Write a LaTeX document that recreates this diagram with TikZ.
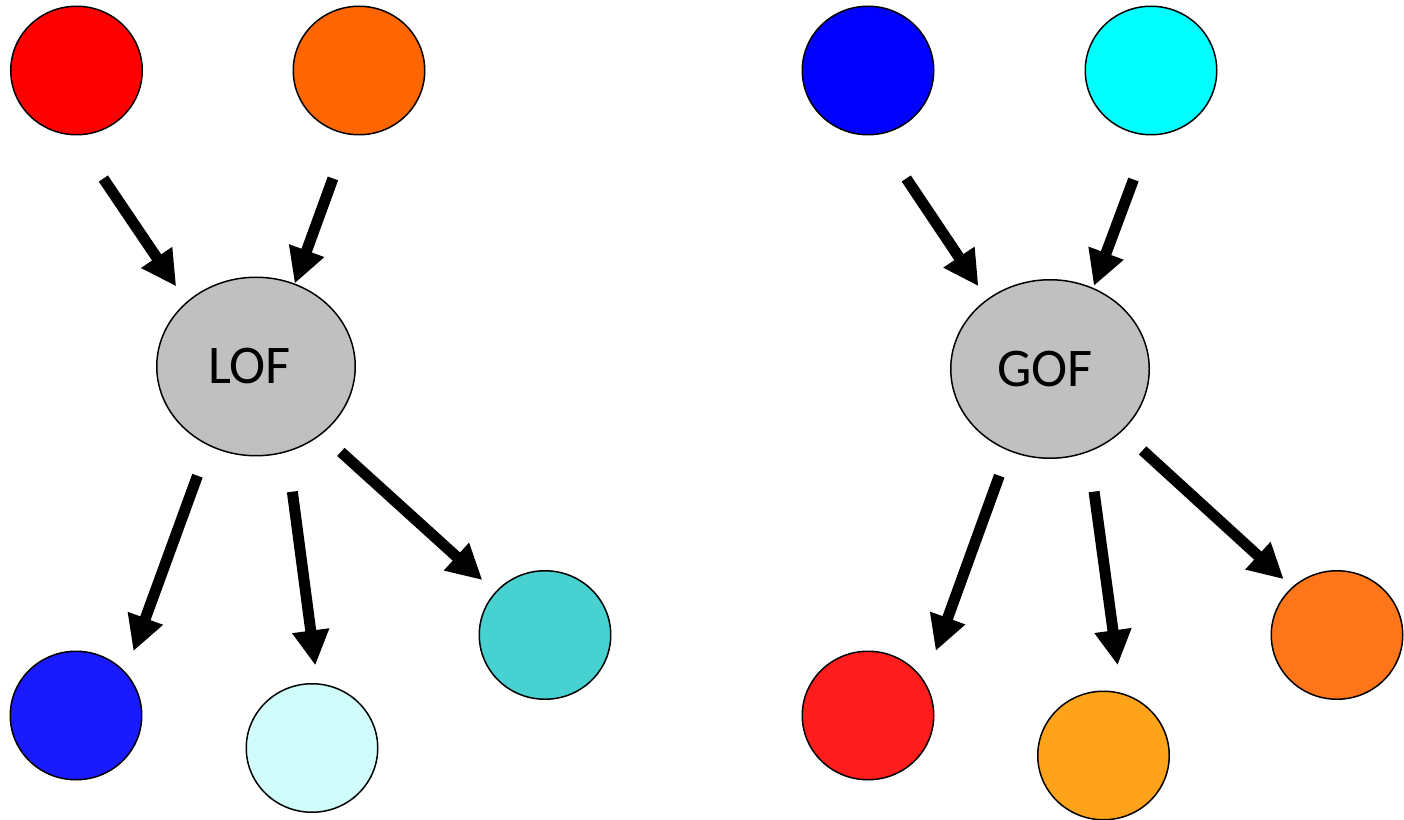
\documentclass[tikz,border=0pt]{standalone}
\usepackage{fontspec}
\setmainfont{Carlito}
\usepackage{tikz}
\usetikzlibrary{shapes.geometric, arrows.meta}

\definecolor{inred}{HTML}{FF0000}
\definecolor{inorange}{HTML}{FF6600}
\definecolor{inblue}{HTML}{0000FF}
\definecolor{incyan}{HTML}{00FFFF}
\definecolor{opgray}{HTML}{C0C0C0}
\definecolor{outblue}{HTML}{1A1AFF}
\definecolor{outpale}{HTML}{D0FCFC}
\definecolor{outteal}{HTML}{48D1D1}
\definecolor{outred}{HTML}{FF1C1C}
\definecolor{outamber}{HTML}{FFA31A}
\definecolor{outorange}{HTML}{FF761A}

\begin{document}
\begin{tikzpicture}[
  dot/.style={draw, ellipse, line width=0.85pt, minimum width=2.63cm, minimum height=2.57cm, inner sep=0pt},
  op/.style={draw, ellipse, line width=0.85pt, fill=opgray, minimum width=3.97cm, minimum height=3.57cm, font=\fontsize{31}{37}\selectfont},
  arr/.style={-{Triangle[width=0.7cm, length=0.7cm]}, line width=0.22cm}
]
\useasboundingbox (0,0) rectangle (28.08,-16.4);

% LOF side
\node[dot, fill=inred] (lofin1) at (1.53,-1.41) {};
\node[dot, fill=inorange] (lofin2) at (7.18,-1.41) {};
\node[op] (lof) at (5.12,-7.33) {LOF\hspace*{0.26cm}};
\node[dot, fill=outblue] (lofout1) at (1.52,-14.31) {};
\node[dot, fill=outpale] (lofout2) at (6.24,-14.96) {};
\node[dot, fill=outteal] (lofout3) at (10.90,-12.70) {};

% GOF side
\node[dot, fill=inblue] (gofin1) at (17.36,-1.41) {};
\node[dot, fill=incyan] (gofin2) at (23.02,-1.41) {};
\node[op] (gof) at (21.00,-7.38) {GOF\hspace*{0.2cm}};
\node[dot, fill=outred] (gofout1) at (17.36,-14.31) {};
\node[dot, fill=outamber] (gofout2) at (22.07,-15.11) {};
\node[dot, fill=outorange] (gofout3) at (26.74,-12.70) {};

% Arrows
\draw[arr, shorten <=1.04cm, shorten >=0.37cm] (lofin1.268) -- (lof.137);
\draw[arr, shorten <=0.93cm] (lofin2.261) -- (lof.65);
\draw[arr, shorten <=0.64cm, shorten >=0.45cm] (lof.239) -- (lofout1.41);
\draw[arr, shorten <=0.80cm, shorten >=0.36cm] (lof.290) -- (lofout2.85);
\draw[arr, shorten <=0.52cm, shorten >=0.35cm] (lof.314) -- (lofout3.139);

\draw[arr, shorten <=1.05cm, shorten >=0.31cm] (gofin1.278) -- (gof.132);
\draw[arr, shorten <=0.94cm, shorten >=0.04cm] (gofin2.269) -- (gof.62);
\draw[arr, shorten <=0.53cm, shorten >=0.65cm] (gof.243) -- (gofout1.31);
\draw[arr, shorten <=0.80cm, shorten >=0.56cm] (gof.295) -- (gofout2.74);
\draw[arr, shorten <=0.56cm, shorten >=0.23cm] (gof.319) -- (gofout3.133);

\end{tikzpicture}
\end{document}
